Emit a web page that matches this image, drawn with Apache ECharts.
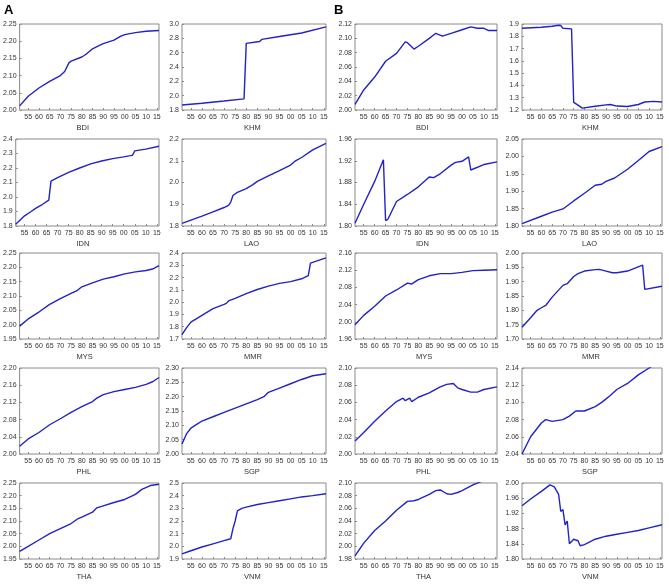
<!DOCTYPE html>
<html><head><meta charset="utf-8">
<script src="https://cdn.jsdelivr.net/npm/echarts@6/dist/echarts.min.js"></script>
<style>html,body{margin:0;padding:0;background:#fff}#c{width:669px;height:588px}</style>
</head><body><div id="c"></div>
<script>
// Panel names (row-major: A-left, A-right, B-left, B-right)
const names = ['BDI','KHM','BDI','KHM','IDN','LAO','IDN','LAO','MYS','MMR','MYS','MMR','PHL','SGP','PHL','SGP','THA','VNM','THA','VNM'];
const yMin  = [2.00,1.8,2.00,1.2, 1.8,1.8,1.80,1.80, 1.95,1.7,1.96,1.70, 2.00,2.00,2.00,2.04, 1.95,1.9,1.98,1.80];
const yMax  = [2.25,3.0,2.12,1.9, 2.4,2.2,1.96,2.05, 2.25,2.4,2.16,2.00, 2.20,2.30,2.10,2.14, 2.25,2.5,2.10,2.00];
const yStep = [0.05,0.2,0.02,0.1, 0.1,0.1,0.04,0.05, 0.05,0.1,0.04,0.05, 0.04,0.05,0.02,0.02, 0.05,0.1,0.02,0.04];
const yDec  = [2,1,2,1, 1,1,2,2, 2,1,2,2, 2,2,2,2, 2,1,2,2];
const xTicks = [1955,1960,1965,1970,1975,1980,1985,1990,1995,2000,2005,2010,2015];

// Series: [year, value]
const A_BDI = [[1951,2.012],[1955,2.04],[1960,2.064],[1965,2.083],[1970,2.10],[1972,2.112],[1974,2.137],[1975,2.142],[1980,2.154],[1982,2.162],[1985,2.178],[1988,2.187],[1990,2.193],[1995,2.203],[1998,2.214],[2000,2.219],[2005,2.225],[2010,2.229],[2016,2.231]];
const A_KHM = [[1951,1.87],[1960,1.895],[1970,1.925],[1979,1.955],[1980,2.73],[1986,2.755],[1987,2.785],[1995,2.825],[2005,2.875],[2016,2.96]];
const B_BDI = [[1951,2.008],[1955,2.028],[1960,2.046],[1965,2.068],[1970,2.079],[1974,2.095],[1975,2.094],[1978,2.085],[1980,2.089],[1985,2.10],[1988,2.107],[1991,2.103],[1995,2.107],[2000,2.112],[2004,2.116],[2007,2.114],[2010,2.114],[2012,2.111],[2016,2.111]];
const B_KHM = [[1951,1.865],[1960,1.873],[1965,1.882],[1968,1.89],[1969,1.888],[1970,1.865],[1974,1.86],[1975,1.262],[1977,1.24],[1979,1.215],[1985,1.23],[1990,1.242],[1992,1.245],[1995,1.232],[2000,1.228],[2005,1.245],[2008,1.265],[2012,1.27],[2016,1.265]];
const A_IDN = [[1951,1.812],[1955,1.87],[1958,1.9],[1960,1.922],[1963,1.948],[1966,1.978],[1967,2.11],[1970,2.134],[1975,2.17],[1980,2.2],[1985,2.228],[1990,2.248],[1995,2.265],[2000,2.277],[2003,2.285],[2004,2.288],[2005,2.318],[2010,2.33],[2016,2.35]];
const A_LAO = [[1951,1.812],[1960,1.845],[1965,1.865],[1970,1.885],[1972,1.895],[1973,1.91],[1974,1.94],[1976,1.955],[1980,1.972],[1983,1.99],[1985,2.005],[1990,2.03],[1995,2.055],[2000,2.08],[2002,2.098],[2005,2.115],[2010,2.15],[2016,2.18]];
const B_IDN = [[1951,1.805],[1955,1.84],[1960,1.882],[1964,1.922],[1965,1.81],[1966,1.812],[1970,1.845],[1975,1.858],[1980,1.872],[1985,1.89],[1987,1.889],[1990,1.896],[1995,1.912],[1997,1.917],[2000,1.919],[2003,1.927],[2004,1.903],[2010,1.913],[2016,1.918]];
const B_LAO = [[1951,1.807],[1960,1.828],[1965,1.84],[1970,1.849],[1975,1.872],[1980,1.894],[1985,1.917],[1988,1.92],[1990,1.928],[1994,1.938],[2000,1.963],[2005,1.988],[2010,2.014],[2016,2.028]];
const A_MYS = [[1951,1.995],[1955,2.02],[1960,2.044],[1965,2.071],[1970,2.091],[1975,2.109],[1978,2.12],[1980,2.132],[1985,2.146],[1990,2.159],[1995,2.167],[2000,2.177],[2005,2.184],[2010,2.189],[2013,2.194],[2016,2.206]];
const A_MMR = [[1951,1.735],[1953,1.79],[1955,1.837],[1960,1.892],[1965,1.947],[1970,1.982],[1971,1.99],[1972,2.01],[1975,2.03],[1980,2.07],[1985,2.103],[1990,2.13],[1995,2.153],[2000,2.167],[2005,2.19],[2008,2.216],[2009,2.318],[2016,2.36]];
const B_MYS = [[1951,1.993],[1955,2.015],[1960,2.036],[1965,2.06],[1970,2.074],[1975,2.09],[1977,2.088],[1980,2.098],[1985,2.107],[1990,2.112],[1995,2.112],[2000,2.115],[2005,2.119],[2010,2.12],[2016,2.121]];
const B_MMR = [[1951,1.741],[1955,1.774],[1958,1.80],[1960,1.809],[1962,1.817],[1965,1.846],[1970,1.887],[1972,1.893],[1975,1.918],[1977,1.928],[1980,1.937],[1985,1.942],[1987,1.943],[1990,1.937],[1993,1.931],[1995,1.931],[2000,1.937],[2007,1.958],[2008,1.873],[2016,1.884]];
const A_PHL = [[1951,2.018],[1955,2.035],[1960,2.05],[1965,2.068],[1970,2.082],[1975,2.097],[1980,2.11],[1985,2.122],[1987,2.13],[1990,2.138],[1995,2.145],[2000,2.15],[2005,2.155],[2010,2.162],[2013,2.168],[2016,2.178]];
const A_SGP = [[1951,2.035],[1953,2.07],[1955,2.09],[1958,2.105],[1960,2.115],[1965,2.13],[1970,2.145],[1975,2.16],[1980,2.175],[1985,2.19],[1988,2.2],[1990,2.215],[1995,2.23],[2000,2.245],[2005,2.26],[2010,2.273],[2016,2.28]];
const B_PHL = [[1951,2.015],[1955,2.025],[1960,2.038],[1965,2.05],[1970,2.061],[1973,2.065],[1974,2.062],[1976,2.065],[1977,2.061],[1980,2.066],[1985,2.071],[1990,2.078],[1993,2.081],[1996,2.082],[1998,2.077],[2000,2.075],[2004,2.072],[2007,2.072],[2010,2.075],[2016,2.078]];
const B_SGP = [[1951,2.04],[1955,2.06],[1960,2.076],[1962,2.08],[1965,2.078],[1970,2.08],[1973,2.084],[1976,2.09],[1980,2.09],[1985,2.095],[1988,2.1],[1992,2.108],[1995,2.115],[2000,2.122],[2005,2.132],[2010,2.14],[2013,2.145],[2016,2.146]];
const A_THA = [[1951,1.98],[1955,2.0],[1960,2.025],[1965,2.05],[1970,2.07],[1975,2.09],[1978,2.108],[1980,2.115],[1985,2.135],[1987,2.152],[1990,2.16],[1995,2.173],[2000,2.185],[2005,2.205],[2008,2.225],[2012,2.24],[2016,2.245]];
const A_VNM = [[1951,1.94],[1955,1.965],[1960,1.995],[1965,2.02],[1970,2.045],[1973,2.06],[1974,2.14],[1975,2.2],[1976,2.28],[1978,2.3],[1980,2.31],[1985,2.33],[1990,2.345],[1995,2.36],[2000,2.375],[2005,2.39],[2010,2.4],[2016,2.415]];
const B_THA = [[1951,1.985],[1955,2.005],[1960,2.025],[1965,2.04],[1970,2.057],[1975,2.071],[1978,2.072],[1980,2.074],[1985,2.082],[1988,2.088],[1990,2.089],[1993,2.083],[1995,2.082],[1998,2.085],[2000,2.088],[2005,2.097],[2010,2.104],[2016,2.106]];
const B_VNM = [[1951,1.94],[1955,1.958],[1960,1.978],[1964,1.995],[1966,1.99],[1968,1.97],[1969,1.925],[1970,1.93],[1971,1.89],[1972,1.9],[1973,1.84],[1975,1.852],[1977,1.848],[1978,1.835],[1980,1.838],[1985,1.852],[1990,1.86],[1995,1.865],[2000,1.87],[2005,1.875],[2010,1.882],[2016,1.89]];

const seriesData = [A_BDI,A_KHM,B_BDI,B_KHM, A_IDN,A_LAO,B_IDN,B_LAO, A_MYS,A_MMR,B_MYS,B_MMR, A_PHL,A_SGP,B_PHL,B_SGP, A_THA,A_VNM,B_THA,B_VNM];

// Layout
const colLeft = [14, 182, 355, 522];
const colWidth = [145, 144, 142, 140];
const rowTop = [24, 139, 253, 368, 483];
const rowHeight = [86, 87, 86, 86, 76];

const grids = [], xAxes = [], yAxes = [], series = [], graphics = [];
const font = 'Liberation Sans, Arial, sans-serif';
for (let i = 0; i < 20; i++) {
  const r = Math.floor(i / 4), c = i % 4;
  grids.push({left: colLeft[c], top: rowTop[r], width: colWidth[c], height: rowHeight[r],
    show: true, borderColor: '#8a8a8a', borderWidth: 1, containLabel: false});
  xAxes.push({type: 'value', gridIndex: i, min: 1951, max: 2016,
    axisLine: {show: false}, splitLine: {show: false},
    axisTick: {show: true, inside: true, length: 2, lineStyle: {color: '#8a8a8a'}, customValues: xTicks},
    axisLabel: {customValues: xTicks, fontSize: 7, color: '#333', fontFamily: font, margin: 4,
      formatter: v => String(v % 100).padStart(2, '0')}});
  const vals = [];
  const n = Math.round((yMax[i] - yMin[i]) / yStep[i]);
  for (let k = 0; k <= n; k++) vals.push(+(yMin[i] + k * yStep[i]).toFixed(4));
  const d = yDec[i];
  yAxes.push({type: 'value', gridIndex: i, min: yMin[i], max: yMax[i],
    axisLine: {show: false}, splitLine: {show: false},
    axisTick: {show: true, inside: true, length: 2, lineStyle: {color: '#8a8a8a'}, customValues: vals},
    axisLabel: {customValues: vals, fontSize: 7, color: '#333', fontFamily: font, margin: 3,
      formatter: v => Number(v).toFixed(d)}});
  series.push({type: 'line', xAxisIndex: i, yAxisIndex: i, data: seriesData[i],
    showSymbol: false, symbol: 'none', lineStyle: {color: '#2222c8', width: 1.4}, animation: false});
  graphics.push({type: 'text', left: colLeft[c] + colWidth[c] / 2 - 10, top: rowTop[r] + rowHeight[r] + 14,
    style: {text: names[i], fontSize: 7.5, fill: '#333', fontFamily: font, width: 20, align: 'center'}});
}
graphics.push({type: 'text', left: 4, top: 4, style: {text: 'A', fontSize: 13, fontWeight: 'bold', fill: '#000', fontFamily: font}});
graphics.push({type: 'text', left: 334, top: 4, style: {text: 'B', fontSize: 13, fontWeight: 'bold', fill: '#000', fontFamily: font}});

const chart = echarts.init(document.getElementById('c'), null, {renderer: 'canvas'});
chart.setOption({animation: false, grid: grids, xAxis: xAxes, yAxis: yAxes, series: series, graphic: graphics});
</script></body></html>
